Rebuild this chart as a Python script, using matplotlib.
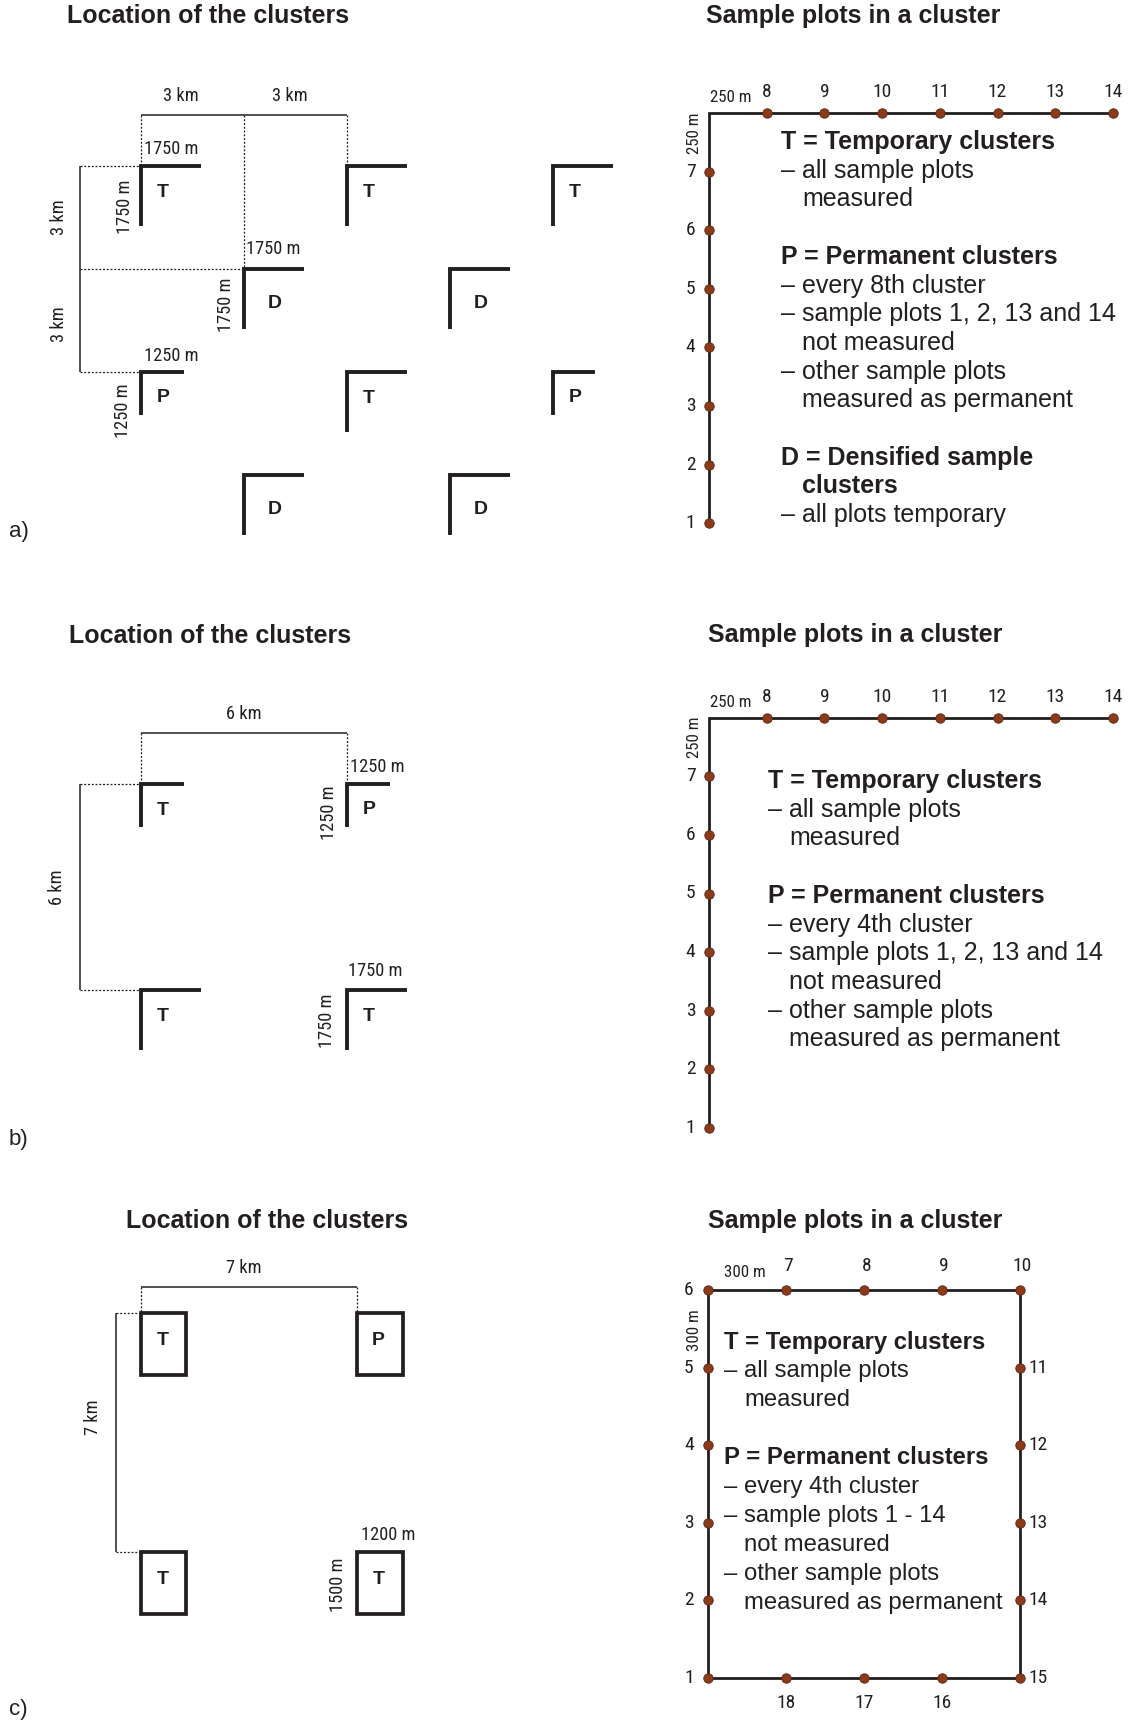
import matplotlib
matplotlib.use("Agg")
import matplotlib.pyplot as plt
from matplotlib import font_manager
from matplotlib.patches import Rectangle

# ---------------- data ----------------
# panel a: cluster locations (km) and sizes (m)
a_types = ['T', 'T', 'T', 'D', 'D', 'P', 'T', 'P', 'D', 'D']
a_x_km = [0, 6, 12, 3, 9, 0, 6, 12, 3, 9]
a_y_km = [0, 0, 0, 3, 3, 6, 6, 6, 9, 9]
a_size_m = [1750, 1750, 1750, 1750, 1750, 1250, 1750, 1250, 1750, 1750]
a_spacing_km = 3

# panel b
b_types = ['T', 'P', 'T', 'T']
b_x_km = [0, 6, 0, 6]
b_y_km = [0, 0, 6, 6]
b_size_m = [1250, 1250, 1750, 1750]
b_spacing_km = 6

# panel c (rectangular clusters)
c_types = ['T', 'P', 'T', 'T']
c_x_km = [0, 7, 0, 7]
c_y_km = [0, 0, 7, 7]
c_width_m = 1200
c_height_m = 1500
c_spacing_km = 7

# sample plots (L-shaped clusters, 250 m spacing)
l_left_plots = [1, 2, 3, 4, 5, 6, 7]
l_top_plots = [8, 9, 10, 11, 12, 13, 14]
l_spacing_m = 250

# sample plots (rectangular cluster, 300 m spacing)
r_left_plots = [1, 2, 3, 4, 5, 6]
r_top_plots = [7, 8, 9, 10]
r_right_plots = [11, 12, 13, 14, 15]
r_bottom_plots = [16, 17, 18]
r_spacing_m = 300

title_loc = "Location of the clusters"
title_plots = "Sample plots in a cluster"

text_a = [("T = Temporary clusters", 'h'), ("– all sample plots", 'b'), ("measured", 'i'), ("", ''),
          ("P = Permanent clusters", 'h'), ("– every 8th cluster", 'b'),
          ("– sample plots 1, 2, 13 and 14", 'b'), ("not measured", 'i'),
          ("– other sample plots", 'b'), ("measured as permanent", 'i'), ("", ''),
          ("D = Densified sample", 'h'), ("clusters", 'hi'), ("– all plots temporary", 'b')]
text_b = [("T = Temporary clusters", 'h'), ("– all sample plots", 'b'), ("measured", 'i'), ("", ''),
          ("P = Permanent clusters", 'h'), ("– every 4th cluster", 'b'),
          ("– sample plots 1, 2, 13 and 14", 'b'), ("not measured", 'i'),
          ("– other sample plots", 'b'), ("measured as permanent", 'i')]
text_c = [("T = Temporary clusters", 'h'), ("– all sample plots", 'b'), ("measured", 'i'), ("", ''),
          ("P = Permanent clusters", 'h'), ("– every 4th cluster", 'b'),
          ("– sample plots 1 - 14", 'b'), ("not measured", 'i'),
          ("– other sample plots", 'b'), ("measured as permanent", 'i')]

# ---------------- style ----------------
W, H = 1131, 1722
DPI = 100
INK = '#231f20'
DOT = '#8b3a1c'
DOT_EDGE = '#5a2410'

_names = {f.name for f in font_manager.fontManager.ttflist}
MAIN = 'Liberation Sans' if 'Liberation Sans' in _names else 'DejaVu Sans'
NARROW = MAIN
for cand in ['Liberation Sans Narrow', 'Arial Narrow', 'Roboto Condensed', 'Open Sans Condensed']:
    if cand in _names:
        NARROW = cand
        break
IS_NARROW = NARROW != MAIN
NARROW_SIZE = 13.2 if IS_NARROW else 11.5
NUM_SIZE = 14 if IS_NARROW else 13.5
NUM_FAMILY = NARROW if IS_NARROW else MAIN
plt.rcParams['font.family'] = [MAIN, 'DejaVu Sans']

fig = plt.figure(figsize=(W / DPI, H / DPI), dpi=DPI)
fig.patch.set_facecolor('white')


def make_axes(x0, y0, sx, sy):
    """Axes covering the whole figure, data origin at pixel (x0, y0), sx/sy pixels per unit, y downwards."""
    ax = fig.add_axes([0, 0, 1, 1])
    ax.set_xlim(-x0 / sx, (W - x0) / sx)
    ax.set_ylim((H - y0) / sy, -y0 / sy)
    ax.axis('off')
    ax.patch.set_alpha(0)
    return ax


base = make_axes(0, 0, 1, 1)


def small(ax, x, y, s, rot=0, size=None):
    ax.text(x, y, s, fontsize=size or NARROW_SIZE, family=[NARROW, 'DejaVu Sans'], color=INK,
            ha='center', va='center', rotation=rot)


DOTTED = dict(color=INK, lw=0.9, linestyle=(0, (1.6, 1.4)))
DIM = dict(color=INK, lw=1.1, solid_capstyle='butt')
ARM = dict(color=INK, lw=2.8, solid_capstyle='butt', solid_joinstyle='miter')
LETTER_OFF = {'T': (0.64, 0.78), 'D': (0.91, 1.0), 'P': (0.66, 0.74)}


def draw_L_clusters(ax, xs, ys, sizes, types):
    for x, y, s, t in zip(xs, ys, sizes, types):
        a = s / 1000.0
        ax.plot([x + a, x, x], [y, y, y + a], **ARM)
        dx, dy = LETTER_OFF[t]
        ax.text(x + dx, y + dy, t, fontsize=14, fontweight='bold', color=INK, ha='center', va='center')


# ---------------- panel a, left ----------------
KM = 34.3
axA = make_axes(141, 166, KM, KM)
draw_L_clusters(axA, a_x_km, a_y_km, a_size_m, a_types)
top_y, left_x = -1.49, -1.77
axA.plot([0, 2 * a_spacing_km], [top_y, top_y], **DIM)
axA.plot([0, 0], [top_y, 0], **DOTTED)
axA.plot([a_spacing_km, a_spacing_km], [top_y, a_spacing_km], **DOTTED)
axA.plot([2 * a_spacing_km, 2 * a_spacing_km], [top_y, 0], **DOTTED)
axA.plot([left_x, left_x], [0, 2 * a_spacing_km], **DIM)
axA.plot([left_x, 0], [0, 0], **DOTTED)
axA.plot([left_x, a_spacing_km], [a_spacing_km, a_spacing_km], **DOTTED)
axA.plot([left_x, 0], [2 * a_spacing_km, 2 * a_spacing_km], **DOTTED)
small(axA, 1.17, -2.05, f"{a_spacing_km} km")
small(axA, 4.34, -2.05, f"{a_spacing_km} km")
small(axA, -2.38, 1.5, f"{a_spacing_km} km", 90)
small(axA, -2.38, 4.6, f"{a_spacing_km} km", 90)
for i, (hx, hy, vx, vy) in zip([0, 3, 5], [(0.87, -0.5, -0.48, 1.2), (0.84, -0.58, -0.51, 1.06),
                                          (0.87, -0.46, -0.52, 1.14)]):
    small(axA, a_x_km[i] + hx, a_y_km[i] + hy, f"{a_size_m[i]} m")
    small(axA, a_x_km[i] + vx, a_y_km[i] + vy, f"{a_size_m[i]} m", 90)

# ---------------- panel b, left ----------------
axB = make_axes(141, 784, KM, KM)
draw_L_clusters(axB, b_x_km, b_y_km, b_size_m, b_types)
axB.plot([0, b_spacing_km], [top_y, top_y], **DIM)
axB.plot([0, 0], [top_y, 0], **DOTTED)
axB.plot([b_spacing_km, b_spacing_km], [top_y, 0], **DOTTED)
axB.plot([left_x, left_x], [0, b_spacing_km], **DIM)
axB.plot([left_x, 0], [0, 0], **DOTTED)
axB.plot([left_x, 0], [b_spacing_km, b_spacing_km], **DOTTED)
small(axB, 3.0, -2.05, f"{b_spacing_km} km")
small(axB, -2.44, 3.0, f"{b_spacing_km} km", 90)
for i, (hx, hy, vx, vy) in zip([1, 3], [(0.9, -0.5, -0.53, 0.83), (0.84, -0.55, -0.59, 0.91)]):
    small(axB, b_x_km[i] + hx, b_y_km[i] + hy, f"{b_size_m[i]} m")
    small(axB, b_x_km[i] + vx, b_y_km[i] + vy, f"{b_size_m[i]} m", 90)

# ---------------- panel c, left ----------------
SX_C, SY_C = 30.9, 34.1
EXAG = 1.22  # clusters drawn enlarged
axC = make_axes(141, 1313, SX_C, SY_C)
rw, rh = c_width_m / 1000 * EXAG, c_height_m / 1000 * EXAG
for x, y, t in zip(c_x_km, c_y_km, c_types):
    axC.add_patch(Rectangle((x, y), rw, rh, fill=False, lw=2.7, edgecolor=INK, joinstyle='miter'))
    axC.text(x + 0.69, y + 0.82, t, fontsize=14, fontweight='bold', color=INK, ha='center', va='center')
ctop, cleft = -0.76, -0.81
axC.plot([0, c_spacing_km], [ctop, ctop], **DIM)
axC.plot([0, 0], [ctop, 0], **DOTTED)
axC.plot([c_spacing_km, c_spacing_km], [ctop, 0], **DOTTED)
axC.plot([cleft, cleft], [0, c_spacing_km], **DIM)
axC.plot([cleft, 0], [0, 0], **DOTTED)
axC.plot([cleft, 0], [c_spacing_km, c_spacing_km], **DOTTED)
small(axC, 3.33, -1.32, f"{c_spacing_km} km")
small(axC, -1.55, 3.05, f"{c_spacing_km} km", 90)
small(axC, 8.0, 6.5, f"{c_width_m} m")
small(axC, 6.37, 7.98, f"{c_height_m} m", 90)


# ---------------- right panels ----------------
def num(ax, x, y, s, ha='center'):
    ax.text(x, y, str(s), fontsize=NUM_SIZE, family=[NUM_FAMILY, 'DejaVu Sans'], color=INK, ha=ha, va='center')


LINE_LW = 2.0
MS = 6.8
SPACING_SIZE = NARROW_SIZE - 1.0


def draw_L_plots(ax):
    n = len(l_left_plots)
    lx = [0] * n
    ly = [n + 1 - p for p in l_left_plots]
    tx = [p - l_left_plots[-1] for p in l_top_plots]
    ty = [0] * len(l_top_plots)
    ax.plot([0, 0, tx[-1]], [ly[0], 0, 0], color=INK, lw=LINE_LW, solid_joinstyle='miter', zorder=1)
    ax.plot(lx + tx, ly + ty, 'o', ms=MS, mfc=DOT, mec=DOT_EDGE, mew=0.6, zorder=2)
    for p, y in zip(l_left_plots, ly):
        num(ax, -0.32, y, p)
    for p, x in zip(l_top_plots, tx):
        num(ax, x, -0.35, p)
    small(ax, 0.37, -0.26, f"{l_spacing_m} m", size=SPACING_SIZE)
    small(ax, -0.25, 0.34, f"{l_spacing_m} m", 90, size=SPACING_SIZE)


def text_block(x_px, y_px, lines, step=28.7, indent=21, size=18):
    y = y_px
    for s, kind in lines:
        if s:
            x = x_px + (indent if 'i' in kind else 0)
            base.text(x, y, s, fontsize=size, color=INK, ha='left', va='center',
                      fontweight='bold' if 'h' in kind else 'normal')
        y += step


SXL, SYL = 57.7, 58.6
axRA = make_axes(709, 113, SXL, SYL)
draw_L_plots(axRA)
text_block(781, 142, text_a)

axRB = make_axes(709, 717.7, SXL, SYL)
draw_L_plots(axRB)
text_block(768, 781, text_b)

# rectangular cluster
SXR, SYR = 77.8, 77.6
axRC = make_axes(708.3, 1290, SXR, SYR)
nl = len(r_left_plots) - 1
nt = len(r_top_plots)
pos = {}
for p in r_left_plots:
    pos[p] = (0, r_left_plots[-1] - p)
for i, p in enumerate(r_top_plots):
    pos[p] = (i + 1, 0)
for i, p in enumerate(r_right_plots):
    pos[p] = (nt, i + 1)
for i, p in enumerate(r_bottom_plots):
    pos[p] = (nt - 1 - i, nl)
axRC.plot([0, 0, nt, nt, 0], [nl, 0, 0, nl, nl], color=INK, lw=LINE_LW, solid_joinstyle='miter', zorder=1)
allp = r_left_plots + r_top_plots + r_right_plots + r_bottom_plots
axRC.plot([pos[p][0] for p in allp], [pos[p][1] for p in allp], 'o', ms=MS, mfc=DOT, mec=DOT_EDGE,
          mew=0.6, zorder=2)
for p in r_left_plots:
    num(axRC, -0.25, pos[p][1], p)
for p in r_top_plots:
    num(axRC, pos[p][0] + 0.03, -0.31, p)
for p in r_right_plots:
    num(axRC, nt + 0.12, pos[p][1], p, ha='left')
for p in r_bottom_plots:
    num(axRC, pos[p][0], nl + 0.32, p)
small(axRC, 0.47, -0.22, f"{r_spacing_m} m", size=SPACING_SIZE)
small(axRC, -0.18, 0.52, f"{r_spacing_m} m", 90, size=SPACING_SIZE)
text_block(724, 1342, text_c, step=29.0, indent=20, size=17.2)

# ---------------- titles and panel letters ----------------
for (x, y, s) in [(208, 16, title_loc), (853, 16, title_plots),
                  (210, 636, title_loc), (855, 635, title_plots),
                  (267, 1221, title_loc), (855, 1221, title_plots)]:
    base.text(x, y, s, fontsize=18, fontweight='bold', color=INK, ha='center', va='center')
for (y, s) in [(532, 'a)'), (1139, 'b)'), (1709, 'c)')]:
    base.text(9, y, s, fontsize=16, color=INK, ha='left', va='center')

fig.savefig('out.png', dpi=DPI, facecolor='white')
